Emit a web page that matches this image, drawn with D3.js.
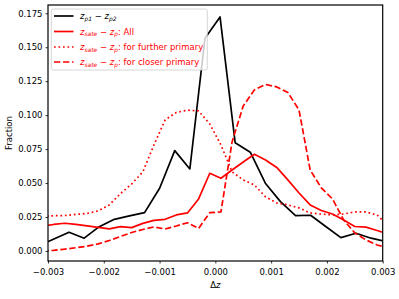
<!DOCTYPE html>
<html><head><meta charset="utf-8">
<script src="https://cdn.jsdelivr.net/npm/d3@7"></script>
<style>body{margin:0;background:#fff}text{font-family:"DejaVu Sans",sans-serif}</style>
</head><body><svg id="c" width="399" height="299"></svg>
<script>
// black series: z_p1 - z_p2
const blackX = [-0.003164,-0.002894,-0.002623,-0.002352,-0.002081,-0.001811,-0.001540,-0.001269,-0.000999,-0.000728,-0.000457,-0.000186,0.000084,0.000355,0.000626,0.000896,0.001167,0.001438,0.001708,0.001979,0.002250,0.002521,0.002791,0.003062];
const blackY = [0.0038,0.0088,0.0138,0.0094,0.0179,0.0233,0.0258,0.0282,0.0462,0.0739,0.0604,0.1566,0.1723,0.0797,0.0727,0.0499,0.0363,0.0260,0.0263,0.0180,0.0098,0.0130,0.0094,0.0070];
// red series grid
const redX = [-0.0031,-0.0029,-0.0027,-0.0025,-0.0023,-0.0021,-0.0019,-0.0017,-0.0015,-0.0013,-0.0011,-0.0009,-0.0007,-0.0005,-0.0003,-0.0001,0.0001,0.0003,0.0005,0.0007,0.0009,0.0011,0.0013,0.0015,0.0017,0.0019,0.0021,0.0023,0.0025,0.0027,0.0029,0.0031];
const allY = [0.0180,0.0195,0.0204,0.0195,0.0184,0.0173,0.0162,0.0179,0.0172,0.0203,0.0225,0.0233,0.0265,0.0280,0.0383,0.0572,0.0535,0.0596,0.0655,0.0712,0.0670,0.0615,0.0523,0.0427,0.0339,0.0298,0.0272,0.0228,0.0180,0.0175,0.0151,0.0125];
const furtherY = [0.0254,0.0259,0.0261,0.0269,0.0276,0.0295,0.0339,0.0423,0.0493,0.0582,0.0781,0.0965,0.1020,0.1037,0.1031,0.0935,0.0781,0.0582,0.0523,0.0486,0.0398,0.0353,0.0339,0.0317,0.0280,0.0272,0.0265,0.0272,0.0287,0.0287,0.0265,0.0184];
const closerY = [0.0000,0.0004,0.0013,0.0024,0.0035,0.0052,0.0077,0.0107,0.0136,0.0158,0.0177,0.0162,0.0184,0.0208,0.0166,0.0282,0.0287,0.0803,0.1068,0.1186,0.1226,0.1208,0.1167,0.1038,0.0596,0.0464,0.0383,0.0228,0.0133,0.0081,0.0044,0.0022];
const xTicks = [-0.003,-0.002,-0.001,0.000,0.001,0.002,0.003];
const yTicks = [0.000,0.025,0.050,0.075,0.100,0.125,0.150,0.175];

const L=48, R=382.7, T=5, B=261;
const x = d3.scaleLinear().domain([-0.003,0.003]).range([L,R]);
const y = d3.scaleLinear().domain([-0.0074,0.1811]).range([B,T]);
const svg = d3.select("#c");
svg.append("defs").append("clipPath").attr("id","clip").append("rect")
  .attr("x",L).attr("y",T).attr("width",R-L).attr("height",B-T);

const fs = 8.5;
// axes
const ax = svg.append("g").attr("transform",`translate(0,${B})`)
  .call(d3.axisBottom(x).tickValues(xTicks).tickFormat(d3.format(".3f")).tickSize(2.5).tickPadding(5));
const ay = svg.append("g").attr("transform",`translate(${L},0)`)
  .call(d3.axisLeft(y).tickValues(yTicks).tickFormat(d3.format(".3f")).tickSize(2.5).tickPadding(3));
[ax,ay].forEach(g=>{g.select(".domain").remove();g.selectAll("text").attr("font-size",fs).attr("font-family","DejaVu Sans").attr("fill","#000");g.selectAll("line").attr("stroke","#000").attr("stroke-width",0.8);});

const lineG = svg.append("g").attr("clip-path","url(#clip)");
const line = d3.line().x(d=>x(d[0])).y(d=>y(d[1]));
const lw = 1.7;
function draw(xs, ys, color, dash){
  lineG.append("path").datum(xs.map((v,i)=>[v,ys[i]])).attr("d",line)
    .attr("fill","none").attr("stroke",color).attr("stroke-width",lw)
    .attr("stroke-dasharray",dash||null).attr("stroke-linejoin","round");
}
draw(blackX, blackY, "#000");
draw(redX, allY, "#ff0000");
draw(redX, furtherY, "#ff0000", "1.7,2.8");
draw(redX, closerY, "#ff0000", "6.3,2.7");

// frame
svg.append("rect").attr("x",L).attr("y",T).attr("width",R-L).attr("height",B-T)
  .attr("fill","none").attr("stroke","#000").attr("stroke-width",1.2);

// labels
svg.append("text").attr("x",(L+R)/2).attr("y",287.5).attr("text-anchor","middle").attr("font-size",fs)
  .html('Δ<tspan font-style="italic">z</tspan>');
svg.append("text").attr("transform","translate(12,133) rotate(-90)").attr("text-anchor","middle").attr("font-size",fs).text("Fraction");

// legend
const lg = svg.append("g");
lg.append("rect").attr("x",51.3).attr("y",9).attr("width",156).attr("height",61).attr("rx",2)
  .attr("fill","#fff").attr("fill-opacity",0.8).attr("stroke","#ccc").attr("stroke-width",0.8);
const entries = [
  {color:"#000", dash:null, sub1:"p1", sub2:"p2", rest:""},
  {color:"#ff0000", dash:null, sub1:"sate", sub2:"p", rest:": All"},
  {color:"#ff0000", dash:"1.7,2.8", sub1:"sate", sub2:"p", rest:": for further primary"},
  {color:"#ff0000", dash:"6.3,2.7", sub1:"sate", sub2:"p", rest:": for closer primary"}
];
const rowY = [16, 31.5, 47, 62];
entries.forEach((e,i)=>{
  const yy = rowY[i];
  lg.append("line").attr("x1",54).attr("x2",73.5).attr("y1",yy).attr("y2",yy)
    .attr("stroke",e.color).attr("stroke-width",lw).attr("stroke-dasharray",e.dash);
  const t = lg.append("text").attr("x",80).attr("y",yy+3).attr("font-size",fs).attr("fill",e.color);
  t.append("tspan").attr("font-style","italic").text("z");
  t.append("tspan").attr("font-style","italic").attr("font-size",fs*0.7).attr("dy",1.8).text(e.sub1);
  t.append("tspan").attr("dy",-1.8).text(" − ");
  t.append("tspan").attr("font-style","italic").text("z");
  t.append("tspan").attr("font-style","italic").attr("font-size",fs*0.7).attr("dy",1.8).text(e.sub2);
  t.append("tspan").attr("dy",-1.8).text(e.rest);
});
</script></body></html>
